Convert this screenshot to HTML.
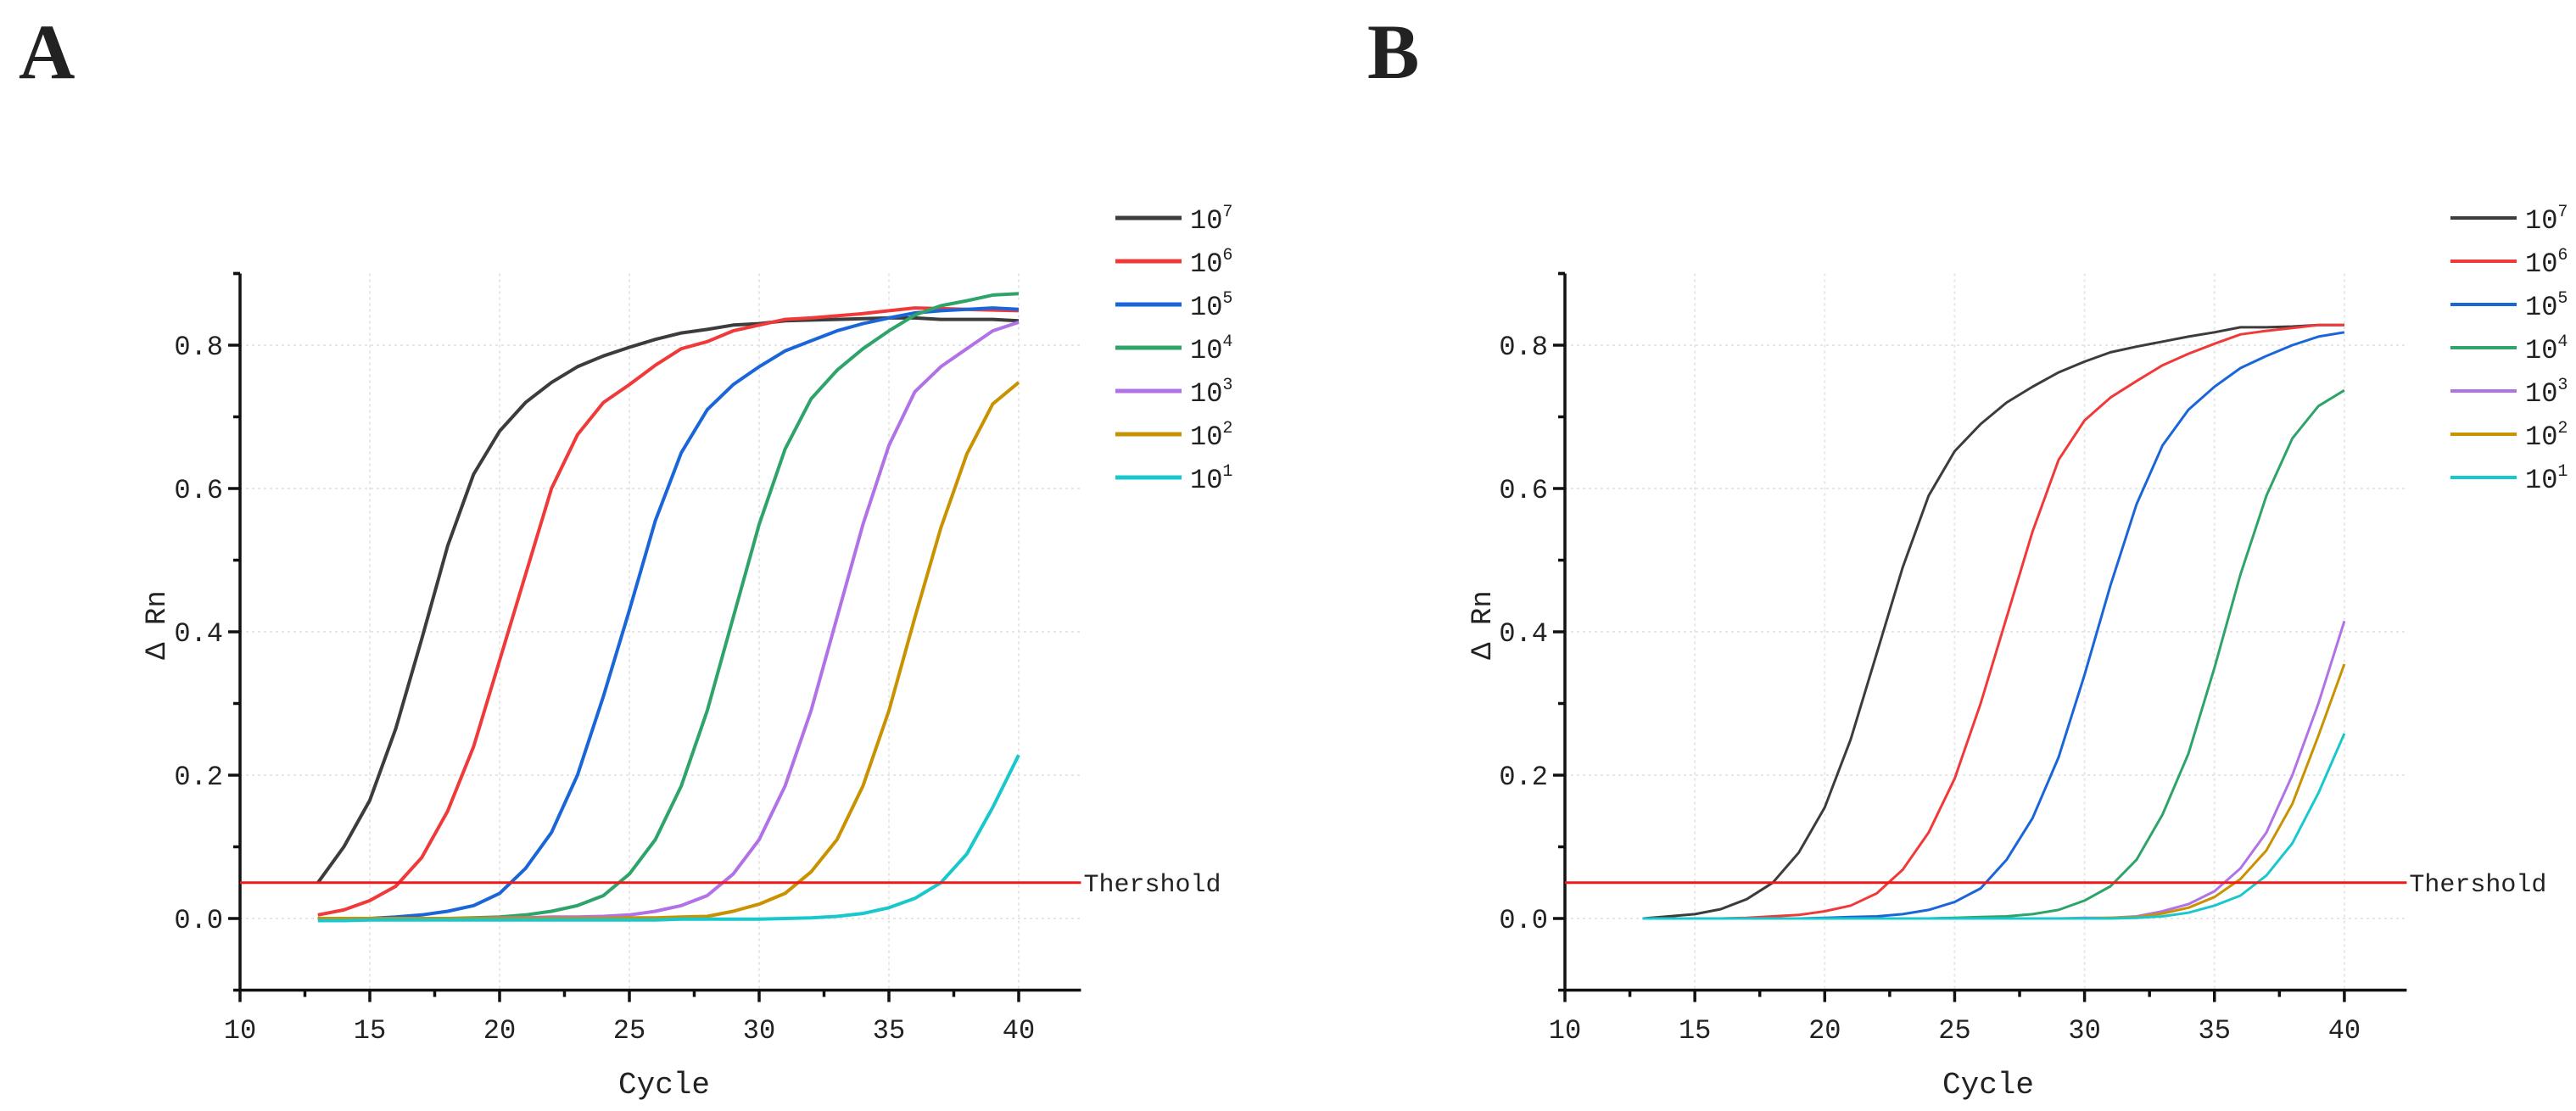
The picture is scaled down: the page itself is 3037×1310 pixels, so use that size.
<!DOCTYPE html>
<html><head><meta charset="utf-8"><style>
html,body{margin:0;padding:0;background:#fff;}
svg{display:block;}
text{font-family:"Liberation Mono","DejaVu Sans Mono",monospace;fill:#222;}
</style></head>
<body>
<svg id="chart" width="3037" height="1310" viewBox="0 0 3037 1310" xmlns="http://www.w3.org/2000/svg"></svg>
<script>
const cycles = [13,14,15,16,17,18,19,20,21,22,23,24,25,26,27,28,29,30,31,32,33,34,35,36,37,38,39,40];
const seriesLabels = ["7","6","5","4","3","2","1"];
const seriesColors = ["#3c3c3c","#f03a3a","#1a66d9","#2ea36a","#b072e6","#c99200","#18c8cc"];
const xTicks = [10,15,20,25,30,35,40];
const yTicks = [0.0,0.2,0.4,0.6,0.8];
const yTickLabels = ["0.0","0.2","0.4","0.6","0.8"];
const thresholdValue = 0.05;

const a7 = [0.05,0.10,0.165,0.265,0.39,0.52,0.62,0.68,0.72,0.748,0.77,0.785,0.797,0.808,0.817,0.822,0.828,0.830,0.834,0.835,0.836,0.837,0.838,0.838,0.836,0.836,0.836,0.834];
const a6 = [0.005,0.012,0.025,0.045,0.085,0.15,0.24,0.36,0.48,0.60,0.675,0.72,0.745,0.772,0.795,0.805,0.82,0.828,0.836,0.838,0.841,0.844,0.848,0.852,0.851,0.850,0.849,0.848];
const a5 = [0,0,0,0.002,0.005,0.01,0.018,0.035,0.07,0.12,0.20,0.31,0.43,0.555,0.65,0.71,0.745,0.77,0.792,0.806,0.82,0.83,0.838,0.845,0.848,0.85,0.852,0.85];
const a4 = [0,0,0,0,0,0,0.001,0.002,0.005,0.01,0.018,0.032,0.062,0.11,0.185,0.29,0.42,0.55,0.655,0.725,0.765,0.795,0.82,0.842,0.855,0.862,0.87,0.872];
const a3 = [0,0,0,0,0,0,0,0.001,0.001,0.002,0.002,0.003,0.005,0.01,0.018,0.032,0.062,0.11,0.185,0.29,0.42,0.55,0.66,0.735,0.77,0.795,0.82,0.832];
const a2 = [0,0,0,0,0,0,0,0,0,0,0,0,0.001,0.001,0.002,0.003,0.01,0.02,0.035,0.065,0.11,0.185,0.29,0.42,0.545,0.648,0.718,0.748];
const a1 = [-0.003,-0.003,-0.002,-0.002,-0.002,-0.002,-0.002,-0.002,-0.002,-0.002,-0.002,-0.002,-0.002,-0.002,-0.001,-0.001,-0.001,-0.001,0,0.001,0.003,0.007,0.015,0.028,0.05,0.09,0.155,0.228];

const b7 = [0,0.003,0.006,0.013,0.027,0.05,0.092,0.155,0.25,0.37,0.49,0.59,0.652,0.69,0.72,0.742,0.762,0.777,0.79,0.798,0.805,0.812,0.818,0.825,0.825,0.826,0.828,0.828];
const b6 = [0,0,0,0,0.001,0.003,0.005,0.01,0.018,0.035,0.068,0.12,0.195,0.3,0.42,0.54,0.64,0.695,0.727,0.75,0.772,0.788,0.802,0.815,0.82,0.824,0.828,0.828];
const b5 = [0,0,0,0,0,0,0,0.001,0.002,0.003,0.006,0.012,0.023,0.042,0.082,0.14,0.225,0.34,0.465,0.578,0.66,0.71,0.742,0.768,0.785,0.8,0.812,0.818];
const b4 = [0,0,0,0,0,0,0,0,0,0,0,0,0.001,0.002,0.003,0.006,0.012,0.025,0.045,0.082,0.145,0.23,0.35,0.48,0.59,0.67,0.715,0.737];
const b3 = [0,0,0,0,0,0,0,0,0,0,0,0,0,0,0,0,0,0.001,0.001,0.003,0.01,0.02,0.038,0.07,0.12,0.2,0.3,0.415];
const b2 = [0,0,0,0,0,0,0,0,0,0,0,0,0,0,0,0,0,0,0.001,0.002,0.007,0.015,0.03,0.055,0.095,0.16,0.255,0.355];
const b1 = [0,0,0,0,0,0,0,0,0,0,0,0,0,0,0,0,0,0,0,0.001,0.003,0.008,0.018,0.032,0.06,0.105,0.175,0.258];

const NS = "http://www.w3.org/2000/svg";
const svg = document.getElementById("chart");
function mk(tag, attrs, parent){
  const e = document.createElementNS(NS, tag);
  for (const k in attrs) e.setAttribute(k, attrs[k]);
  (parent||svg).appendChild(e);
  return e;
}

function drawPanel(p){
  const g = mk("g", {});
  
  
  const X = v => p.x0 + (v - 10) * p.xs;
  const Y = v => 1083 - v * 845;
  const xMaxV = 42.4, yMinV = -0.1, yMaxV = 0.9;

  const lt = mk("text", {x:p.letterX, y:92, "font-size":92, "font-weight":"bold", style:"font-family:'Liberation Serif',serif", fill:"#000"}, g);
  lt.textContent = p.id;
  
  

  // grid
  const grid = mk("g", {stroke:"#e6e6e6", "stroke-width":2, "stroke-dasharray":"3,4"}, g);
  
  
  xTicks.slice(1).forEach(t => mk("line", {x1:X(t), x2:X(t), y1:Y(yMaxV), y2:Y(yMinV)}, grid));
  yTicks.forEach(t => mk("line", {x1:X(10), x2:X(xMaxV), y1:Y(t), y2:Y(t)}, grid));

  // axes
  const ax = mk("g", {stroke:"#111", "stroke-width":3.5, fill:"none"}, g);
  
  
  mk("line", {x1:X(10), x2:X(10), y1:Y(yMaxV), y2:Y(yMinV)+1.5}, ax);
  mk("line", {x1:X(10)-1.5, x2:X(xMaxV), y1:Y(yMinV), y2:Y(yMinV)}, ax);
  mk("line", {x1:X(10)-8, x2:X(10), y1:Y(yMaxV), y2:Y(yMaxV)}, ax);
  for (let v = 10; v <= 42.4; v += 2.5){
    const major = (v % 5 === 0);
    mk("line", {x1:X(v), x2:X(v), y1:Y(yMinV), y2:Y(yMinV)+(major?14:8)}, ax);
  }
  for (let i = -1; i <= 9; i++){
    const v = i/10;
    const major = (i % 2 === 0);
    mk("line", {x1:X(10)-(major?14:8), x2:X(10), y1:Y(v), y2:Y(v)}, ax);
  }
  xTicks.forEach(t => {
    const tx = mk("text", {x:X(t), y:1224, "font-size":32, "text-anchor":"middle"}, g);
    tx.textContent = String(t);
    
    
  });
  yTicks.forEach((t,i) => {
    const ty = mk("text", {x:X(10)-20, y:Y(t)+11, "font-size":32, "text-anchor":"end"}, g);
    ty.textContent = yTickLabels[i];
    
    
  });
  const xt = mk("text", {x:p.cycleX, y:1289, "font-size":36, "text-anchor":"middle"}, g);
  xt.textContent = "Cycle";
  
  
  const yt = mk("text", {x:0, y:0, "font-size":34, "text-anchor":"middle", transform:`translate(${p.rnX+12},737) rotate(-90)`}, g);
  yt.textContent = "Δ Rn";
  
  

  // series
  p.series.forEach((vals, si) => {
    const d = vals.map((v,i) => (i?"L":"M") + X(cycles[i]).toFixed(1) + "," + Y(v).toFixed(1)).join(" ");
    const path = mk("path", {d:d, fill:"none", stroke:seriesColors[si], "stroke-width":p.lw, "stroke-linejoin":"round"}, g);
    
    
  });

  // threshold
  const th = mk("line", {x1:X(10), x2:X(xMaxV), y1:Y(thresholdValue), y2:Y(thresholdValue), stroke:"#f01818", "stroke-width":3}, g);
  
  
  const tt = mk("text", {x:X(xMaxV)+3, y:Y(thresholdValue)+10, "font-size":30}, g);
  tt.textContent = "Thershold";
  
  

  // legend
  seriesLabels.forEach((lab, si) => {
    const ly = 257 + si * 51;
    const le = mk("g", {}, g);
    
    
    mk("line", {x1:p.legX, x2:p.legX+78, y1:ly, y2:ly, stroke:seriesColors[si], "stroke-width":p.lw+1}, le);
    const t = mk("text", {x:p.legX+88, y:ly+12, "font-size":32}, le);
    t.textContent = "10";
    const s = mk("tspan", {dy:-14, "font-size":20}, t);
    s.textContent = lab;
  });
}

drawPanel({id:"A", x0:283, xs:30.6, letterX:22, cycleX:783, rnX:182, legX:1315, lw:4,
  series:[a7,a6,a5,a4,a3,a2,a1]});
drawPanel({id:"B", x0:1845, xs:30.63, letterX:1612, cycleX:2344, rnX:1745, legX:2889, lw:3,
  series:[b7,b6,b5,b4,b3,b2,b1]});
</script>
</body></html>
